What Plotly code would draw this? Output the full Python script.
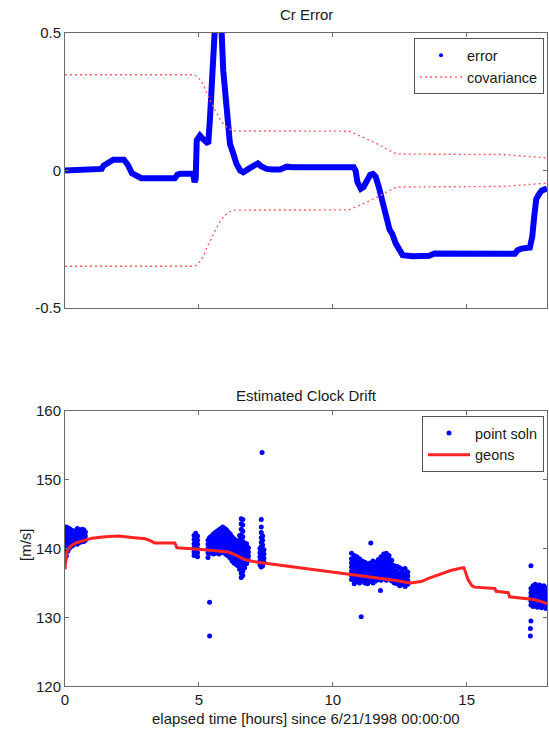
import plotly.graph_objects as go

# ---------------- Cr error (top panel) ----------------
err_t = [0.00, 0.60, 1.00, 1.37, 1.44, 1.55, 1.70, 1.80, 2.20, 2.35, 2.50, 2.70, 2.85,
         4.10, 4.20, 4.30, 4.78, 4.84, 4.88, 4.92, 5.04, 5.15, 5.23, 5.35, 5.42, 5.48,
         5.54, 5.62, 5.78, 5.85, 5.91, 6.03, 6.16, 6.29, 6.40, 6.54, 6.66, 6.85, 7.10,
         7.20, 7.32, 7.53, 7.75, 8.03, 8.28, 8.50, 10.78, 10.85, 10.92, 11.05, 11.15,
         11.28, 11.40, 11.50, 11.60, 11.72, 11.83, 11.95, 12.03, 12.12, 12.22, 12.35,
         12.42, 12.55, 12.61, 13.00, 13.60, 13.80, 16.80, 16.90, 17.05, 17.36, 17.45,
         17.52, 17.60, 17.71, 17.80, 18.00]
err_v = [0.000, 0.002, 0.005, 0.006, 0.018, 0.024, 0.032, 0.039, 0.039, 0.020, -0.010,
         -0.024, -0.028, -0.028, -0.015, -0.012, -0.012, -0.042, -0.030, 0.110, 0.127,
         0.115, 0.109, 0.097, 0.200, 0.302, 0.500, 0.560, 0.560, 0.500, 0.363, 0.200,
         0.097, 0.060, 0.025, 0.000, -0.006, 0.006, 0.024, 0.026, 0.016, 0.006, 0.004,
         0.004, 0.014, 0.012, 0.012, 0.000, -0.042, -0.066, -0.060, -0.036, -0.015,
         -0.012, -0.022, -0.060, -0.097, -0.150, -0.180, -0.215, -0.230, -0.265, -0.278,
         -0.300, -0.308, -0.312, -0.310, -0.302, -0.303, -0.290, -0.284, -0.280, -0.240,
         -0.170, -0.103, -0.085, -0.073, -0.066]

cov_t = [0.00, 4.85, 5.00, 5.16, 5.30, 5.42, 5.60, 5.80, 5.95, 6.15, 6.30, 10.60, 10.80,
         11.20, 11.70, 12.10, 12.40, 16.40, 17.00, 18.00]
cov_v = [0.348, 0.348, 0.335, 0.314, 0.280, 0.254, 0.220, 0.185, 0.165, 0.150, 0.144,
         0.143, 0.135, 0.118, 0.095, 0.073, 0.060, 0.058, 0.053, 0.046]

# ---------------- Clock drift (bottom panel) ----------------
# point solutions, grouped by pass: (time, [drift values at that time])
soln_pass1 = [
    (0.00, [138.4, 139.0, 139.6, 140.2, 140.8, 141.4, 142.0, 142.6, 143.0]),
    (0.05, [138.9, 139.5, 140.1, 140.7, 141.3, 141.9, 142.5, 143.1]),
    (0.10, [139.6, 140.2, 140.8, 141.4, 142.0, 142.6, 143.0]),
    (0.16, [140.0, 140.6, 141.2, 141.8, 142.4, 142.9]),
    (0.22, [140.3, 140.9, 141.5, 142.1, 142.7]),
    (0.28, [140.4, 141.0, 141.6, 142.2, 142.6]),
    (0.34, [140.7, 141.3, 141.9, 142.5]),
    (0.40, [140.8, 141.4, 142.0, 142.5]),
    (0.46, [140.6, 141.2, 141.8, 142.4, 142.9]),
    (0.52, [140.9, 141.5, 142.1, 142.7]),
    (0.58, [140.9, 141.5, 142.0, 142.6]),
    (0.64, [141.0, 141.6, 142.2, 142.8]),
    (0.70, [141.0, 141.6, 142.2, 142.7]),
    (0.76, [141.2, 141.8, 142.4]),
]
soln_pass2 = [
    (4.82, [139.0, 139.5, 140.1, 140.7, 141.3, 141.9]),
    (4.88, [139.2, 139.8, 140.4, 141.0, 141.6, 142.2]),
    (4.95, [138.8, 139.4, 140.0, 140.6, 141.2, 141.8]),
    (5.34, [138.7, 139.4, 140.0, 140.6, 141.2]),
    (5.40, [139.3, 139.9, 140.5, 141.1, 141.6]),
    (5.47, [139.4, 140.0, 140.6, 141.2, 141.8]),
    (5.54, [139.2, 139.8, 140.4, 141.0, 141.6, 142.1]),
    (5.61, [139.3, 139.9, 140.5, 141.1, 141.7, 142.3]),
    (5.68, [139.5, 140.1, 140.7, 141.3, 141.9, 142.5]),
    (5.75, [139.2, 139.8, 140.4, 141.0, 141.6, 142.2, 142.7]),
    (5.82, [139.4, 140.0, 140.6, 141.2, 141.8, 142.4, 142.9]),
    (5.89, [139.6, 140.2, 140.8, 141.4, 142.0, 142.6, 143.1]),
    (5.96, [139.3, 139.9, 140.5, 141.1, 141.7, 142.3, 142.9]),
    (6.03, [139.1, 139.7, 140.3, 140.9, 141.5, 142.1, 142.7]),
    (6.10, [138.9, 139.5, 140.1, 140.7, 141.3, 141.9, 142.4]),
    (6.17, [138.6, 139.2, 139.8, 140.4, 141.0, 141.6, 142.1]),
    (6.24, [138.2, 138.8, 139.4, 140.0, 140.6, 141.2, 141.7]),
    (6.31, [137.9, 138.5, 139.1, 139.7, 140.3, 140.9, 141.4]),
    (6.38, [137.7, 138.3, 138.9, 139.5, 140.1, 140.7, 141.2]),
    (6.45, [137.5, 138.1, 138.7, 139.3, 139.9, 140.5, 141.0]),
    (6.52, [137.0, 137.6, 138.2, 138.8, 139.4, 140.0, 140.6, 141.2, 141.9]),
    (6.58, [135.8, 136.4, 137.0, 137.6, 138.2, 138.8, 139.4, 140.0, 140.6, 141.3,
            142.0, 142.8, 143.6, 144.3]),
    (6.64, [136.1, 136.7, 137.3, 137.9, 138.5, 139.1, 139.7, 140.3, 141.0, 141.7,
            142.5, 143.4, 144.2]),
    (6.71, [137.2, 137.8, 138.4, 139.0, 139.6, 140.2, 140.8]),
    (6.78, [137.8, 138.4, 139.0, 139.6, 140.2, 140.7]),
    (6.85, [138.3, 138.9, 139.5, 140.1]),
    (7.28, [137.6, 138.2, 138.8, 139.4, 140.0]),
    (7.33, [137.3, 137.9, 138.5, 139.1, 139.7, 140.3, 140.9, 141.6, 142.3, 143.1, 144.2]),
    (7.38, [137.5, 138.1, 138.7, 139.3, 139.9, 140.5, 141.2, 141.8]),
    (7.43, [138.0, 138.6, 139.2, 139.8]),
]
soln_pass3 = [
    (10.70, [135.5, 136.1, 136.7, 137.3, 137.9, 138.5, 139.3]),
    (10.80, [134.9, 135.5, 136.1, 136.7, 137.3, 137.9, 138.5, 139.0]),
    (10.90, [135.2, 135.8, 136.4, 137.0, 137.6, 138.2, 138.8]),
    (11.00, [135.0, 135.6, 136.2, 136.8, 137.4, 138.0, 138.5]),
    (11.10, [135.3, 135.9, 136.5, 137.1, 137.7, 138.2]),
    (11.20, [135.0, 135.6, 136.2, 136.8, 137.4, 138.0]),
    (11.30, [134.9, 135.5, 136.1, 136.7, 137.3, 137.8]),
    (11.40, [135.2, 135.8, 136.4, 137.0, 137.6, 137.9]),
    (11.50, [135.0, 135.6, 136.2, 136.8, 137.4, 138.2]),
    (11.60, [135.3, 135.9, 136.5, 137.1, 137.6, 138.0]),
    (11.70, [135.5, 136.1, 136.7, 137.3, 137.9, 138.4]),
    (11.80, [135.4, 136.0, 136.6, 137.2, 137.8, 138.3, 138.8]),
    (11.90, [135.6, 136.2, 136.8, 137.4, 138.0, 138.6, 139.2]),
    (12.00, [135.4, 136.0, 136.6, 137.2, 137.8, 138.4, 139.0, 139.3]),
    (12.10, [135.6, 136.2, 136.8, 137.4, 138.0, 138.5, 139.0]),
    (12.20, [135.3, 135.9, 136.5, 137.1, 137.7, 138.3]),
    (12.30, [135.0, 135.6, 136.2, 136.8, 137.5]),
    (12.40, [134.9, 135.5, 136.1, 136.7, 137.4]),
    (12.50, [134.6, 135.2, 135.8, 136.4, 137.2]),
    (12.60, [134.8, 135.4, 136.0, 136.6, 137.0]),
    (12.70, [134.5, 135.1, 135.7, 136.3, 137.1]),
    (12.80, [134.8, 135.4, 136.0, 136.6]),
]
soln_pass4 = [
    (17.40, [131.8, 132.4, 133.0, 133.6, 134.2]),
    (17.48, [131.6, 132.2, 132.8, 133.4, 134.0, 134.6]),
    (17.56, [131.9, 132.5, 133.1, 133.7, 134.3, 134.8]),
    (17.64, [131.5, 132.1, 132.7, 133.3, 133.9, 134.5]),
    (17.72, [131.7, 132.3, 132.9, 133.5, 134.1, 134.7]),
    (17.80, [131.4, 132.0, 132.6, 133.2, 133.8, 134.4]),
    (17.88, [131.6, 132.2, 132.8, 133.4, 134.0, 134.6]),
    (17.96, [131.3, 131.9, 132.5, 133.1, 133.7, 134.3]),
]
# isolated solutions away from the main passes
outlier_t = [5.40, 5.40, 7.36, 11.06, 11.42, 11.78, 17.40, 17.40, 17.38, 17.38]
outlier_v = [132.2, 127.3, 153.9, 130.1, 140.8, 133.9, 137.5, 129.5, 128.4, 127.3]

geons_t = [0.00, 0.03, 0.08, 0.20, 0.40, 0.70, 1.00, 1.50, 2.00, 2.50, 3.00, 3.20, 3.35,
           4.10, 4.18, 5.00, 5.60, 6.10, 6.40, 6.70, 7.20, 8.00, 8.80, 9.50, 10.00,
           10.60, 11.20, 11.80, 12.30, 12.90, 13.30, 13.60, 14.00, 14.40, 14.85, 14.90,
           15.05, 15.20, 15.30, 16.05, 16.10, 16.55, 16.60, 17.00, 17.50, 17.80, 18.00]
geons_v = [137.0, 138.5, 139.6, 140.3, 140.8, 141.2, 141.5, 141.7, 141.8, 141.6, 141.4,
           141.1, 140.8, 140.8, 140.1, 139.9, 139.7, 139.5, 139.0, 138.4, 138.0, 137.6,
           137.2, 136.9, 136.6, 136.3, 136.0, 135.7, 135.4, 135.0, 135.2, 135.7, 136.3,
           136.8, 137.2, 137.2, 135.5, 134.6, 134.4, 134.2, 133.8, 133.6, 133.0, 132.8,
           132.6, 132.3, 132.0]

time_ticks = [0, 5, 10, 15]
cr_ticks = [-0.5, 0, 0.5]
cr_ticktext = ["-0.5", "0", "0.5"]
drift_ticks = [120, 130, 140, 150, 160]

# flatten the pass columns into point lists
soln_t, soln_v = [], []
for group in (soln_pass1, soln_pass2, soln_pass3, soln_pass4):
    for t, vals in group:
        soln_t.extend([t] * len(vals))
        soln_v.extend(vals)
soln_t += outlier_t
soln_v += outlier_v

BLUE = "#0000ff"
RED = "#ff2424"
PINK = "#ff6060"
AXIS = "#6a6a6a"
TEXT = "#1a1a1a"
FONT = "Liberation Sans, Arial, Helvetica, sans-serif"

fig = go.Figure()

# top panel
fig.add_trace(go.Scatter(x=err_t, y=err_v, mode="lines", line=dict(color=BLUE, width=6),
                         xaxis="x", yaxis="y", showlegend=False, legendgroup="err"))
fig.add_trace(go.Scatter(x=[None], y=[None], mode="markers", name="error",
                         marker=dict(color=BLUE, size=4), xaxis="x", yaxis="y",
                         legend="legend", legendgroup="err"))
fig.add_trace(go.Scatter(x=cov_t, y=cov_v, mode="lines", name="covariance",
                         line=dict(color=PINK, width=1.4, dash="2px,3px"),
                         xaxis="x", yaxis="y", legend="legend", legendgroup="cov"))
fig.add_trace(go.Scatter(x=cov_t, y=[-v for v in cov_v], mode="lines",
                         line=dict(color=PINK, width=1.4, dash="2px,3px"),
                         xaxis="x", yaxis="y", showlegend=False, legendgroup="cov"))

# bottom panel
fig.add_trace(go.Scatter(x=soln_t, y=soln_v, mode="markers", name="point soln",
                         marker=dict(color=BLUE, size=5, line=dict(width=0)),
                         xaxis="x2", yaxis="y2", legend="legend2"))
fig.add_trace(go.Scatter(x=geons_t, y=geons_v, mode="lines", name="geons",
                         line=dict(color=RED, width=3),
                         xaxis="x2", yaxis="y2", legend="legend2"))

axis_common = dict(showline=True, linecolor=AXIS, linewidth=1, mirror="ticks",
                   ticks="inside", ticklen=4, tickcolor=AXIS, showgrid=False,
                   zeroline=False, automargin=False,
                   tickfont=dict(size=15, color=TEXT, family=FONT))

legend_common = dict(bgcolor="white", bordercolor="#555555", borderwidth=1,
                     font=dict(size=14.5, color=TEXT, family=FONT),
                     xanchor="right", yanchor="top", tracegroupgap=0,
                     itemwidth=42)

fig.update_layout(
    width=549, height=732,
    margin=dict(l=65, r=2, t=0, b=0, pad=0, autoexpand=False),
    paper_bgcolor="white", plot_bgcolor="white",
    font=dict(family=FONT, size=15, color=TEXT),
    xaxis=dict(domain=[0, 1], range=[0, 18], tickvals=time_ticks, showticklabels=False,
               anchor="y", **axis_common),
    yaxis=dict(domain=[0.5792, 0.9549], range=[-0.5, 0.5], tickvals=cr_ticks,
               ticktext=cr_ticktext, anchor="x", **axis_common),
    xaxis2=dict(domain=[0, 1], range=[0, 18], tickvals=time_ticks, anchor="y2",
                **axis_common),
    yaxis2=dict(domain=[0.0622, 0.4392], range=[120, 160], tickvals=drift_ticks,
                anchor="x2", **axis_common),
    legend=dict(x=0.9938, y=0.9477, **legend_common),
    legend2=dict(x=0.9938, y=0.4317, **legend_common),
    annotations=[
        dict(text="Cr Error", x=0.5, y=1 - 14.5 / 732, xref="paper", yref="paper",
             xanchor="center", yanchor="middle", showarrow=False,
             font=dict(size=15, color=TEXT, family=FONT)),
        dict(text="Estimated Clock Drift", x=0.5, y=1 - 395 / 732, xref="paper",
             yref="paper", xanchor="center", yanchor="middle", showarrow=False,
             font=dict(size=15, color=TEXT, family=FONT)),
        dict(text="elapsed time [hours] since 6/21/1998 00:00:00", x=0.5,
             y=1 - 718 / 732, xref="paper", yref="paper", xanchor="center",
             yanchor="middle", showarrow=False,
             font=dict(size=15, color=TEXT, family=FONT)),
        dict(text="[m/s]", x=(25 - 65) / 482, y=1 - 545 / 732, xref="paper",
             yref="paper", xanchor="center", yanchor="middle", textangle=-90,
             showarrow=False, font=dict(size=15, color=TEXT, family=FONT)),
    ],
)

fig.write_html("out.html", post_script="document.body.style.margin='0';")
